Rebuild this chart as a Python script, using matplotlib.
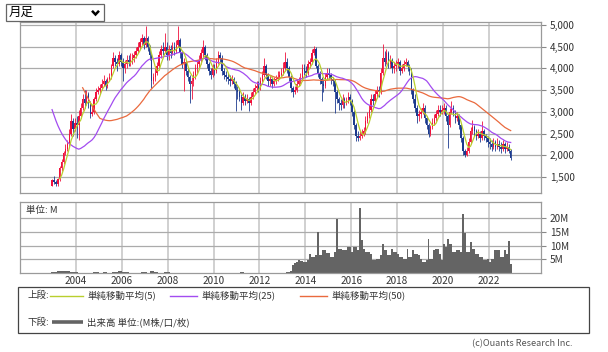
import matplotlib
matplotlib.use('Agg')
import matplotlib.pyplot as plt
import numpy as np
import pandas as pd
from matplotlib.patches import Rectangle
from matplotlib.lines import Line2D

plt.rcParams['font.family'] = ['Noto Sans CJK JP', 'DejaVu Sans']

W, H = 608, 352

# monthly closes Mar 2000 - Nov 2002: not drawn, only seed the 25/50-month averages
PRE_CLOSE = [
    7500, 7800, 7400, 7200, 7300, 7000, 6900, 6800, 6800, 4600,              # 2000
    4400, 4200, 4100, 4000, 3900, 3800, 3700, 3600, 3500, 3400, 3350, 3300,  # 2001
    3300, 2650, 2600, 2500, 2400, 2300, 2200, 2100, 1950, 1700, 1300,        # 2002
]

START = '2002-12'
CLOSE = [
    1430,
    1380, 1330, 1450, 1700, 1850, 2050, 2150, 2250, 2500, 2800, 2600, 2750,  # 2003
    2700, 2900, 3100, 3300, 3200, 3400, 3200, 2950, 3000, 3300, 3450, 3500,  # 2004
    3550, 3650, 3700, 3600, 3750, 3800, 4050, 4250, 4150, 4100, 4300, 4150,  # 2005
    4000, 4100, 4200, 4150, 4200, 4250, 4300, 4400, 4500, 4600, 4700, 4550,  # 2006
    4700, 4500, 4300, 3700, 3800, 3900, 4050, 4300, 4450, 4400, 4500, 4300,  # 2007
    4450, 4350, 4500, 4400, 4550, 4650, 4350, 4100, 4150, 3950, 3800, 3650,  # 2008
    3700, 3850, 4000, 4100, 4200, 4350, 4500, 4300, 4100, 3950, 3850, 4000,  # 2009
    3950, 4150, 4300, 4250, 3950, 3850, 3800, 3750, 3700, 3750, 3650, 3500,  # 2010
    3450, 3350, 3200, 3350, 3250, 3300, 3200, 3350, 3450, 3550, 3600, 3550,  # 2011
    3700, 3850, 4050, 3850, 3700, 3750, 3650, 3700, 3750, 3800, 3850, 3900,  # 2012
    4000, 4150, 4000, 3800, 3550, 3450, 3500, 3650, 3700, 3750, 4000, 3950,  # 2013
    3900, 4100, 4150, 4350, 4450, 4050, 3900, 3750, 3650, 3600, 3800, 3900,  # 2014
    3850, 3750, 3700, 3450, 3300, 3200, 3150, 3300, 3200, 3250, 3350, 3250,  # 2015
    3000, 2700, 2450, 2400, 2450, 2500, 2550, 2800, 2900, 3050, 3300, 3250,  # 2016
    3400, 3500, 3450, 3900, 4250, 4150, 4350, 4100, 4200, 4000, 4050, 4100,  # 2017
    4150, 3950, 4000, 4100, 4150, 4050, 3950, 3500, 3300, 3100, 2900, 2950,  # 2018
    3000, 3100, 2850, 2700, 2500, 2650, 2750, 2850, 2950, 3050, 3000, 3050,  # 2019
    3100, 2900, 2700, 3000, 3100, 3000, 2850, 2900, 2700, 2400, 2100, 2000,  # 2020
    2100, 2300, 2550, 2650, 2550, 2450, 2500, 2400, 2550, 2450, 2400, 2300,  # 2021
    2250, 2200, 2300, 2200, 2250, 2200, 2150, 2250, 2150, 2200, 2100, 1950,  # 2022
]
HIGH = [
    1460,
    1520, 1430, 1480, 1750, 1920, 2100, 2250, 2350, 2600, 2950, 2850, 2850,
    2900, 3050, 3200, 3400, 3500, 3500, 3450, 3250, 3150, 3350, 3550, 3600,
    3650, 3750, 3850, 3750, 3800, 3900, 4100, 4380, 4300, 4250, 4400, 4350,
    4250, 4200, 4300, 4300, 4350, 4350, 4400, 4500, 4600, 4700, 4800, 4750,
    4980, 4750, 4550, 4350, 3900, 4000, 4150, 4400, 4550, 4600, 4820, 4600,
    4550, 4550, 4600, 4600, 4650, 4975, 4700, 4400, 4250, 4200, 4000, 3850,
    3800, 3950, 4100, 4200, 4300, 4450, 4650, 4550, 4350, 4150, 4000, 4100,
    4100, 4250, 4400, 4380, 4300, 4000, 3950, 3900, 3850, 3850, 3800, 3700,
    3600, 3550, 3400, 3450, 3400, 3400, 3350, 3450, 3550, 3650, 3700, 3700,
    3800, 3950, 4250, 4100, 3900, 3850, 3800, 3800, 3850, 3950, 3950, 4000,
    4150, 4380, 4250, 4050, 3850, 3600, 3600, 3750, 3800, 3900, 4100, 4100,
    4050, 4200, 4250, 4450, 4520, 4500, 4100, 3950, 3800, 3750, 3900, 4000,
    4000, 3900, 3800, 3750, 3500, 3350, 3300, 3400, 3350, 3350, 3450, 3400,
    3300, 3050, 2750, 2550, 2550, 2600, 2650, 2900, 3000, 3150, 3400, 3400,
    3500, 3600, 3600, 4000, 4560, 4400, 4450, 4400, 4300, 4250, 4150, 4200,
    4250, 4200, 4100, 4200, 4250, 4200, 4100, 4000, 3550, 3400, 3150, 3050,
    3100, 3200, 3150, 2900, 2750, 2700, 2850, 2950, 3050, 3150, 3150, 3150,
    3200, 3150, 2950, 3100, 3250, 3150, 3050, 3000, 2950, 2750, 2450, 2150,
    2200, 2400, 2650, 2820, 2700, 2600, 2600, 2550, 2790, 2600, 2500, 2450,
    2400, 2350, 2400, 2350, 2400, 2350, 2300, 2350, 2300, 2300, 2250, 2150,
]
LOW = [
    1290,
    1350, 1290, 1285, 1420, 1650, 1800, 2000, 2100, 2200, 2450, 2450, 2550,
    2400, 2350, 2850, 3050, 3100, 3150, 3100, 2860, 2900, 2950, 3250, 3400,
    3420, 3500, 3600, 3500, 3550, 3700, 3750, 4000, 4050, 3950, 4050, 4050,
    3700, 3900, 4000, 4050, 4050, 4100, 4150, 4250, 4350, 4450, 4550, 4450,
    4500, 4400, 4200, 3550, 3650, 3700, 3850, 4000, 4250, 4300, 4350, 4200,
    4200, 4250, 4300, 4300, 4350, 4500, 4250, 4000, 3480, 3850, 3700, 3200,
    3300, 3600, 3750, 3900, 4000, 4100, 4250, 4200, 4000, 3850, 3750, 3800,
    3850, 3900, 4100, 4150, 3850, 3750, 3700, 3650, 3600, 3650, 3550, 3020,
    3300, 3250, 3050, 3150, 3150, 3200, 3020, 3150, 3300, 3400, 3500, 3450,
    3500, 3650, 3800, 3750, 3600, 3600, 3550, 3600, 3650, 3700, 3750, 3800,
    3850, 3950, 3900, 3700, 3450, 3350, 3400, 3450, 3600, 3650, 3700, 3850,
    3800, 3850, 4000, 4100, 4300, 4000, 3800, 3650, 3250, 3450, 3550, 3750,
    3750, 3650, 3600, 2975, 3200, 3050, 3050, 3100, 3100, 3150, 3200, 3150,
    2900, 2600, 2320, 2330, 2350, 2400, 2450, 2500, 2750, 2850, 3000, 3150,
    3200, 3350, 3350, 3400, 3850, 4050, 4100, 4000, 4000, 3900, 3900, 3950,
    4000, 3850, 3900, 3950, 4050, 3950, 3850, 3400, 3200, 3000, 2750, 2800,
    2850, 2950, 2750, 2600, 2420, 2450, 2600, 2700, 2800, 2900, 2900, 2950,
    2950, 2800, 2170, 2650, 2950, 2900, 2750, 2800, 2600, 2300, 2000, 1960,
    1980, 2050, 2250, 2500, 2450, 2350, 2400, 2300, 2350, 2350, 2300, 2200,
    2150, 2100, 2150, 2100, 2150, 2100, 2050, 2100, 2050, 2100, 2050, 1900,
]
# volume, millions
VOLUME = [
    0.3,
    0.35, 0.35, 0.7, 0.7, 0.75, 0.7, 0.7, 0.8, 0.7, 0.6, 0.5, 0.5,      # 2003
    0.45, 0.0, 0.0, 0.1, 0.0, 0.0, 0.1, 0.0, 0.0, 0.35, 0.35, 0.35,     # 2004
    0.1, 0.0, 0.35, 0.35, 0.0, 0.0, 0.0, 0.5, 0.5, 0.5, 0.7, 0.7,       # 2005
    0.6, 0.5, 0.5, 0.5, 0.0, 0.1, 0.0, 0.0, 0.0, 0.1, 0.5, 0.5,         # 2006
    0.5, 0.1, 0.0, 0.85, 0.85, 0.6, 0.6, 0.1, 0.0, 0.0, 0.5, 0.5,       # 2007
    0.5, 0.1, 0.0, 0.0, 0.0, 0.0, 0.0, 0.0, 0.0, 0.0, 0.0, 0.0,         # 2008
    0.0, 0.25, 0.25, 0.0, 0.0, 0.0, 0.0, 0.0, 0.0, 0.0, 0.0, 0.0,       # 2009
    0.0, 0.0, 0.0, 0.0, 0.0, 0.0, 0.0, 0.0, 0.0, 0.0, 0.0, 0.0,         # 2010
    0.0, 0.0, 0.3, 0.3, 0.0, 0.0, 0.0, 0.0, 0.0, 0.0, 0.0, 0.0,         # 2011
    0.0, 0.0, 0.0, 0.0, 0.0, 0.0, 0.0, 0.0, 0.0, 0.0, 0.0, 0.0,         # 2012
    0.0, 0.0, 0.3, 0.5, 1.0, 3.0, 3.8, 4.0, 4.7, 4.6, 4.4, 4.0,         # 2013
    4.1, 4.7, 7.1, 6.0, 6.0, 6.5, 15.1, 6.5, 6.5, 8.3, 8.3, 7.3,        # 2014
    7.3, 5.9, 5.9, 7.7, 19.7, 8.9, 8.9, 8.3, 8.3, 8.3, 9.5, 9.5,        # 2015
    7.7, 9.5, 9.5, 8.3, 23.6, 11.9, 8.9, 7.7, 7.7, 7.7, 7.0, 4.7,       # 2016
    4.7, 5.3, 5.3, 6.5, 10.7, 8.3, 8.3, 6.5, 6.5, 8.9, 7.7, 7.7,        # 2017
    7.1, 5.9, 5.9, 5.3, 5.3, 8.9, 5.9, 5.9, 8.3, 7.1, 7.1, 6.5,         # 2018
    5.3, 4.1, 4.1, 4.7, 12.5, 5.3, 5.3, 8.3, 8.9, 8.9, 7.1, 4.7,        # 2019
    10.7, 9.5, 12.5, 10.7, 10.7, 7.7, 7.7, 8.3, 8.3, 7.7, 21.5, 14.5,   # 2020
    7.7, 7.7, 11.3, 8.9, 8.9, 7.1, 7.1, 5.9, 5.9, 4.7, 4.7, 5.3,        # 2021
    4.1, 5.3, 5.3, 8.3, 8.3, 8.3, 5.9, 5.9, 8.3, 7.1, 11.6, 3.5,        # 2022
]

PRICE_TICKS = [1500, 2000, 2500, 3000, 3500, 4000, 4500, 5000]
VOL_TICKS = [5, 10, 15, 20]
YEAR_TICKS = list(range(2004, 2023, 2))

RED = '#f0103c'
BLUE = '#1c3a8e'
C_MA5 = '#b9cf2e'
C_MA25 = '#a34cf0'
C_MA50 = '#ea6a3e'
C_VOL = '#646464'
TXT = '#333333'


def fig_box(l, t, r, b):
    return [l / W, 1 - b / H, (r - l) / W, (b - t) / H]


def fx(x):
    return x / W


def fy(y):
    return 1 - y / H


months = pd.period_range(START, periods=len(CLOSE), freq='M')
t = np.asarray(months.year + (months.month - 0.5) / 12, float)
c = np.array(CLOSE, float)
o = np.r_[PRE_CLOSE[-1], CLOSE[:-1]].astype(float)
hi = np.array(HIGH, float)
lo = np.array(LOW, float)
full = pd.Series(PRE_CLOSE + CLOSE, dtype=float)
n_pre = len(PRE_CLOSE)
ma5 = pd.Series(c).rolling(5).mean().to_numpy()
ma25 = full.rolling(25).mean().to_numpy()[n_pre:]
ma50 = full.rolling(50).mean().to_numpy()[n_pre:]

fig = plt.figure(figsize=(W / 100, H / 100), dpi=100)
ax = fig.add_axes(fig_box(20, 21.7, 541, 192.7))
axv = fig.add_axes(fig_box(20, 202.3, 541, 273.3))

for a in (ax, axv):
    a.set_xlim(2001.56, 2024.28)
    a.set_xticks(YEAR_TICKS)
    a.grid(axis='x', color='#cdcdcd', lw=1.3, zorder=0)
    a.grid(axis='y', color='#ababab', lw=0.9, zorder=0)
    a.set_axisbelow(True)
    a.yaxis.tick_right()
    a.tick_params(axis='y', direction='out', length=3.5, width=0.8,
                  color='#888888', pad=3, labelsize=7.2, labelcolor=TXT)
    a.tick_params(axis='x', length=0)
    for s in a.spines.values():
        s.set_color('#9a9a9a')
        s.set_linewidth(0.9)

# price candles
up = c >= o
body_lo = np.minimum(o, c)
body_h = np.maximum(np.abs(c - o), 8)
for mask, col in ((up, RED), (~up, BLUE)):
    ax.vlines(t[mask], lo[mask], hi[mask], color=col, lw=0.6, zorder=2)
    ax.bar(t[mask], body_h[mask], bottom=body_lo[mask], width=0.065,
           color=col, linewidth=0, zorder=2)
ax.plot(t, ma50, color=C_MA50, lw=0.9, zorder=3)
ax.plot(t, ma25, color=C_MA25, lw=0.9, zorder=3)
ax.plot(t, ma5, color=C_MA5, lw=0.9, zorder=4)
ax.set_ylim(1140, 5075)
ax.set_yticks(PRICE_TICKS)
ax.set_yticklabels([f'{v:,}' for v in PRICE_TICKS])
ax.set_xticklabels([])

# volume
axv.bar(t, VOLUME, width=1 / 12, color=C_VOL, linewidth=0, zorder=2)
axv.set_ylim(0, 25.7)
axv.set_yticks(VOL_TICKS)
axv.set_yticklabels([f'{v}M' for v in VOL_TICKS])
axv.set_xticklabels([str(y) for y in YEAR_TICKS])
axv.tick_params(axis='x', pad=2, labelsize=7.2, labelcolor=TXT)
axv.text(0.012, 0.88, '単位: M', transform=axv.transAxes, fontsize=6.8,
         color=TXT, va='center', ha='left')

# dropdown box
fig.patches.append(Rectangle((fx(6), fy(20.7)), fx(98), 16.2 / H,
                             transform=fig.transFigure, facecolor='white',
                             edgecolor='#666666', lw=0.9))
fig.text(fx(9), fy(12.8), '月足', fontsize=9, color='black', va='center', ha='left')
fig.lines.append(Line2D([fx(92), fx(95.5), fx(99)], [fy(10.8), fy(14.5), fy(10.8)],
                        transform=fig.transFigure, color='black', lw=1.8,
                        solid_capstyle='butt', solid_joinstyle='miter'))

# legend box
fig.patches.append(Rectangle((fx(18), fy(333)), fx(571), 46 / H,
                             transform=fig.transFigure, facecolor='white',
                             edgecolor='#444444', lw=0.9))
ROW1, ROW2 = 295.5, 322
fig.text(fx(27), fy(ROW1), '上段:', fontsize=6.8, color=TXT, va='center')
for x0, x1, col, label in ((50, 83, C_MA5, '単純移動平均(5)'),
                           (170, 197, C_MA25, '単純移動平均(25)'),
                           (300, 327, C_MA50, '単純移動平均(50)')):
    fig.lines.append(Line2D([fx(x0), fx(x1)], [fy(ROW1), fy(ROW1)],
                            transform=fig.transFigure, color=col, lw=1.0))
    fig.text(fx(x1 + 5), fy(ROW1), label, fontsize=6.8, color=TXT, va='center')
fig.text(fx(27), fy(ROW2), '下段:', fontsize=6.8, color=TXT, va='center')
fig.lines.append(Line2D([fx(52), fx(83)], [fy(ROW2), fy(ROW2)],
                        transform=fig.transFigure, color=C_VOL, lw=2.6,
                        solid_capstyle='butt'))
fig.text(fx(87), fy(ROW2), '出来高 単位:(M株/口/枚)', fontsize=6.8, color=TXT,
         va='center')

fig.text(fx(573), fy(343.5), '(c)Ouants Research Inc.', fontsize=6.6,
         color='#555555', va='center', ha='right')

fig.savefig('out.png', dpi=100, facecolor='white')
